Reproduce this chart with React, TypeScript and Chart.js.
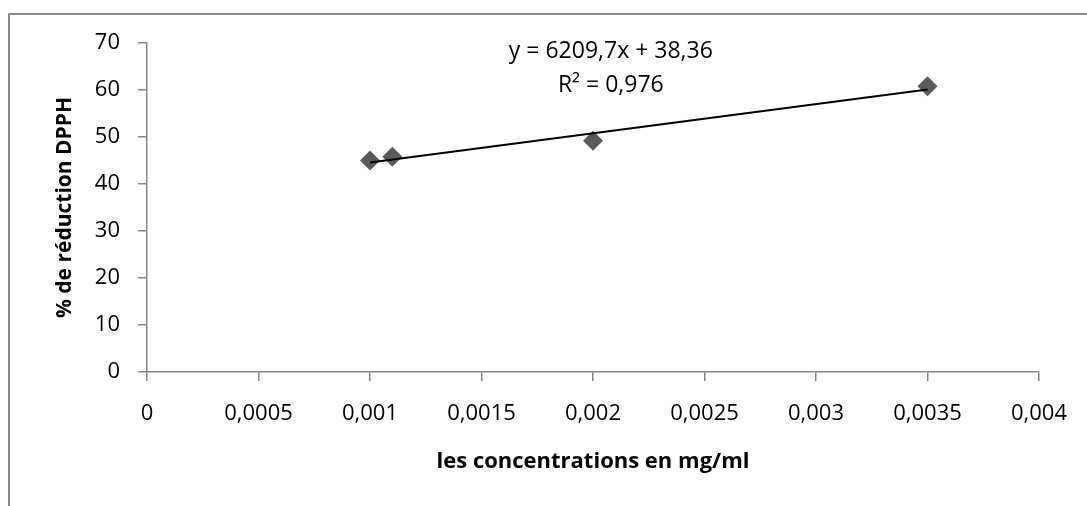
import React, { useEffect, useRef } from "react";
import { Chart, registerables } from "chart.js";

Chart.register(...registerables);

const concentrations = [0.001, 0.0011, 0.002, 0.0035];
const reductionPct = [45.0, 45.8, 49.2, 60.8];
const trendX = [0.001, 0.0035];
const trendY = [44.57, 60.09];
const equationLines = ["y = 6209,7x + 38,36", "R² = 0,976"];
const xTitle = "les concentrations en mg/ml";
const yTitle = "% de réduction DPPH";

const FONT = "'Open Sans'";

const fmt = (v: number) => String(parseFloat(Number(v).toFixed(4))).replace(".", ",");

export default function App() {
  const ref = useRef<HTMLCanvasElement | null>(null);

  useEffect(() => {
    if (!ref.current) return;
    const framePlugin = {
      id: "frame",
      beforeDraw(chart: any) {
        const ctx = chart.ctx;
        ctx.save();
        ctx.fillStyle = "#ffffff";
        ctx.fillRect(0, 0, chart.width, chart.height);
        ctx.strokeStyle = "#8a8a8a";
        ctx.lineWidth = 2;
        ctx.beginPath();
        ctx.moveTo(8, 14);
        ctx.lineTo(chart.width, 14);
        ctx.moveTo(9, 13);
        ctx.lineTo(9, chart.height);
        ctx.stroke();
        ctx.restore();
      },
      afterDraw(chart: any) {
        const ctx = chart.ctx;
        const xs = chart.scales.x;
        const cx = xs.getPixelForValue(0.00208);
        ctx.save();
        ctx.fillStyle = "#000";
        ctx.font = `23px ${FONT}`;
        ctx.textAlign = "center";
        ctx.textBaseline = "alphabetic";
        ctx.fillText(equationLines[0], cx, 58);
        ctx.fillText(equationLines[1], cx, 92);
        ctx.restore();
      },
    };

    const chart = new Chart(ref.current, {
      type: "scatter",
      data: {
        datasets: [
          {
            type: "line",
            data: trendX.map((x, i) => ({ x, y: trendY[i] })),
            borderColor: "#000000",
            borderWidth: 2,
            pointRadius: 0,
            fill: false,
            order: 0,
          } as any,
          {
            data: concentrations.map((x, i) => ({ x, y: reductionPct[i] })),
            pointStyle: "rectRot",
            pointRadius: 10,
            pointBackgroundColor: "#5a5a5a",
            pointBorderWidth: 0,
            borderWidth: 0,
            order: 1,
          } as any,
        ],
      },
      options: {
        responsive: false,
        animation: false,
        devicePixelRatio: 1,
        layout: { padding: { left: 0, top: 43, right: 47, bottom: 0 } },
        plugins: { legend: { display: false }, tooltip: { enabled: false } },
        scales: {
          x: {
            type: "linear",
            min: 0,
            max: 0.004,
            afterFit: (s: any) => {
              s.height = 134;
            },
            ticks: {
              stepSize: 0.0005,
              padding: 20,
              color: "#000",
              font: { family: FONT, size: 22 },
              callback: (v: any) => fmt(v),
            },
            grid: {
              drawOnChartArea: false,
              drawTicks: true,
              tickLength: 9,
              color: "#868686",
              lineWidth: 1.5,
            },
            border: { display: true, color: "#868686", width: 1.5 },
            title: {
              display: true,
              text: xTitle,
              color: "#000",
              font: { family: FONT, size: 22, weight: "bold" },
              padding: { top: 0, bottom: 31 },
            },
          },
          y: {
            min: 0,
            max: 70,
            afterFit: (s: any) => {
              s.width = 147;
            },
            ticks: {
              stepSize: 10,
              padding: 18,
              color: "#000",
              font: { family: FONT, size: 22 },
            },
            grid: {
              drawOnChartArea: false,
              drawTicks: true,
              tickLength: 9,
              color: "#868686",
              lineWidth: 1.5,
            },
            border: { display: true, color: "#868686", width: 1.5 },
            title: {
              display: true,
              text: yTitle,
              color: "#000",
              font: { family: FONT, size: 21, weight: "bold" },
              padding: { top: 52, bottom: 0 },
            },
          },
        },
      },
      plugins: [framePlugin],
    });
    return () => chart.destroy();
  }, []);

  return (
    <div style={{ position: "fixed", left: 0, top: 0, width: 1087, height: 506 }}>
      <canvas ref={ref} width={1087} height={506} />
    </div>
  );
}
